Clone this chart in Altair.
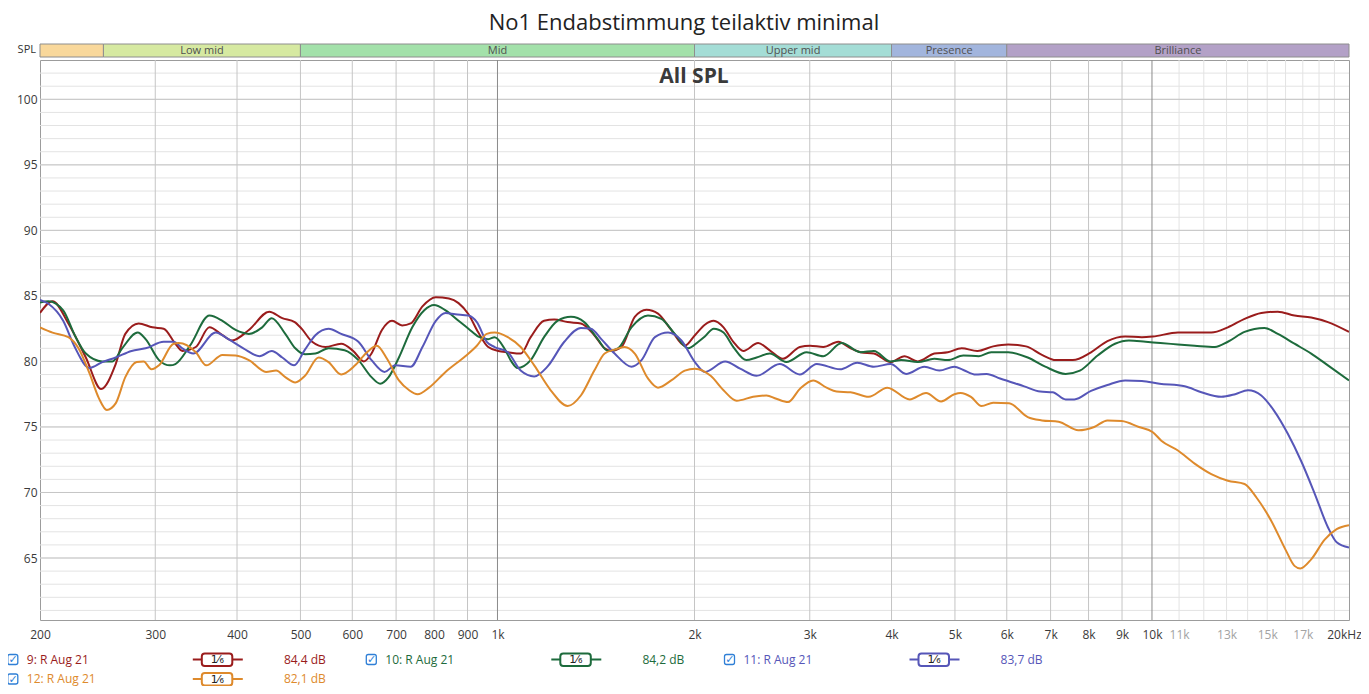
import altair as alt
import pandas as pd

FONT = "Open Sans"

# ---------------- data ----------------
red_f = [200, 209, 221, 235, 248, 261, 270, 283, 297, 309,
         322, 330, 346, 363, 380, 393, 417, 448, 469, 490,
         502, 521, 546, 577, 602, 625, 642, 666, 690, 715,
         737, 768, 805, 843, 872, 903, 935, 968, 1003, 1037,
         1085, 1124, 1178, 1221, 1280, 1341, 1406, 1458, 1492, 1547,
         1621, 1689, 1759, 1843, 1933, 2003, 2074, 2140, 2215, 2293,
         2375, 2502, 2606, 2730, 2897, 3003, 3147, 3317, 3464, 3588,
         3759, 3988, 4186, 4388, 4650, 4876, 5120, 5410, 5720, 6030,
         6420, 6790, 7130, 7570, 8070, 8550, 9100, 9650, 10030, 10956,
         11620, 12320, 13060, 13850, 14690, 15570, 16510, 17510, 18570, 20000]
red_db = [83.7, 84.6, 82.9, 80.3, 77.9, 79.8, 82.1, 82.9, 82.6, 82.5,
          81.35, 80.8, 81.1, 82.6, 82.0, 81.6, 82.4, 83.8, 83.3, 83.0,
          82.5, 81.5, 81.1, 81.35, 80.8, 80.0, 80.6, 82.4, 83.1, 82.75,
          82.9, 84.2, 84.9, 84.8, 84.45, 83.6, 82.2, 81.1, 80.8, 80.7,
          80.6, 81.85, 83.1, 83.2, 83.0, 82.9, 82.0, 81.0, 80.8, 81.1,
          83.4, 83.95, 83.65, 82.4, 81.2, 82.0, 82.8, 83.1, 82.6, 81.5,
          80.8, 81.4, 80.85, 80.2, 81.1, 81.2, 81.1, 81.5, 81.0, 80.7,
          80.6, 79.95, 80.4, 80.0, 80.6, 80.7, 81.0, 80.8, 81.15, 81.3,
          81.15, 80.5, 80.1, 80.1, 80.7, 81.55, 81.9, 81.85, 81.9, 82.2,
          82.2, 82.2, 82.6, 83.25, 83.7, 83.8, 83.5, 83.35, 83.0, 82.25]

green_f = [200, 206, 217, 226, 235, 249, 258, 267, 282, 290,
           304, 316, 322, 339, 363, 380, 398, 417, 437, 452,
           474, 491, 508, 527, 552, 584, 613, 642, 662, 682,
           707, 741, 773, 800, 833, 872, 903, 935, 968, 990,
           1027, 1050, 1073, 1124, 1178, 1235, 1295, 1357, 1423, 1475,
           1528, 1602, 1698, 1780, 1866, 1956, 2027, 2074, 2140, 2215,
           2293, 2400, 2488, 2606, 2763, 2967, 3147, 3356, 3588, 3759,
           3988, 4137, 4388, 4650, 4876, 5150, 5440, 5680, 6030, 6460,
           6870, 7380, 7760, 8260, 8780, 9220, 9780, 10300, 10956, 11620,
           12480, 13060, 13850, 14850, 15570, 16510, 17510, 18570, 20000]
green_db = [84.5, 84.6, 83.9, 82.0, 80.6, 80.0, 80.0, 81.0, 82.2, 81.7,
            80.1, 79.7, 79.8, 81.2, 83.5, 83.1, 82.4, 82.1, 82.6, 83.3,
            82.1, 81.0, 80.55, 80.6, 81.0, 80.85, 80.1, 78.8, 78.3, 78.8,
            80.3, 82.6, 83.9, 84.3, 83.9, 83.1, 82.5, 81.9, 81.7, 81.85,
            80.9, 80.0, 79.5, 80.1, 81.85, 83.1, 83.4, 83.0, 81.7, 80.8,
            81.0, 82.6, 83.5, 83.25, 82.1, 81.0, 81.5, 81.9, 82.5, 82.2,
            81.1, 80.1, 80.3, 80.6, 79.95, 80.7, 80.4, 81.4, 80.7, 80.8,
            80.0, 80.1, 79.95, 80.2, 80.1, 80.45, 80.4, 80.7, 80.7, 80.3,
            79.6, 79.05, 79.3, 80.45, 81.35, 81.6, 81.5, 81.4, 81.3, 81.2,
            81.1, 81.5, 82.25, 82.55, 82.1, 81.35, 80.6, 79.7, 78.55]

blue_f = [200, 206, 217, 226, 238, 249, 261, 276, 290, 309,
          320, 330, 343, 371, 388, 409, 433, 452, 469, 489,
          508, 527, 552, 577, 613, 642, 672, 698, 737, 768,
          805, 833, 862, 903, 930, 963, 990, 1037, 1085, 1138,
          1192, 1265, 1341, 1389, 1441, 1510, 1602, 1660, 1740, 1822,
          1910, 2003, 2074, 2228, 2348, 2488, 2699, 2897, 3075, 3337,
          3546, 3759, 3988, 4210, 4490, 4734, 4990, 5150, 5380, 5590,
          5860, 6380, 6750, 7050, 7380, 7610, 8070, 8550, 9100, 9650,
          10270, 11220, 11900, 12760, 13400, 14020, 14690, 15360, 16120, 16900,
          17730, 18570, 19150, 20000]
blue_db = [84.7, 84.4, 83.1, 81.1, 79.5, 79.95, 80.3, 80.8, 81.0, 81.5,
           81.5, 81.0, 80.6, 82.2, 81.7, 81.0, 80.4, 80.8, 80.3, 79.7,
           80.9, 82.0, 82.5, 82.1, 81.5, 80.1, 79.2, 79.7, 79.6, 81.1,
           83.1, 83.7, 83.6, 83.5, 83.0, 81.5, 81.1, 80.7, 79.3, 78.85,
           79.6, 81.5, 82.55, 82.5, 81.7, 80.6, 79.6, 80.1, 81.85, 82.2,
           81.6, 79.95, 79.2, 80.0, 79.45, 78.9, 79.8, 79.0, 79.8, 79.4,
           79.9, 79.6, 79.8, 79.05, 79.6, 79.3, 79.6, 79.35, 79.0, 79.05,
           78.7, 78.1, 77.7, 77.65, 77.1, 77.1, 77.75, 78.2, 78.55, 78.5,
           78.3, 78.1, 77.65, 77.3, 77.5, 77.8, 77.4, 76.25, 74.5, 72.4,
           69.9, 67.35, 66.2, 65.8]

orange_f = [200, 209, 221, 229, 238, 246, 253, 261, 270, 281,
            288, 296, 304, 320, 326, 346, 359, 380, 398, 417,
            443, 459, 474, 491, 508, 533, 552, 577, 606, 632,
            654, 678, 707, 733, 755, 786, 833, 893, 930, 963,
            990, 1037, 1085, 1138, 1206, 1280, 1341, 1406, 1458, 1510,
            1564, 1621, 1698, 1759, 1843, 1933, 2003, 2117, 2215, 2320,
            2458, 2576, 2667, 2780, 2897, 3036, 3183, 3297, 3464, 3692,
            3941, 4264, 4517, 4762, 4990, 5100, 5290, 5490, 5720, 6050,
            6460, 6790, 7200, 7720, 8160, 8550, 8990, 9550, 10030, 10335,
            10956, 11620, 12320, 13060, 13850, 14450, 15210, 16010, 16510, 16850,
            17510, 18360, 19150, 20000]
orange_db = [82.6, 82.2, 81.85, 81.0, 79.1, 77.2, 76.3, 76.8, 78.8, 79.95,
             80.0, 79.4, 79.7, 81.35, 81.4, 80.7, 79.7, 80.5, 80.45, 80.1,
             79.2, 79.3, 78.8, 78.4, 78.9, 80.3, 79.95, 79.0, 79.7, 80.7,
             81.2, 80.2, 78.55, 77.8, 77.5, 78.0, 79.2, 80.4, 81.2, 82.1,
             82.2, 81.85, 81.1, 79.7, 77.8, 76.6, 77.4, 79.3, 80.6, 80.9,
             81.1, 80.6, 78.7, 78.0, 78.55, 79.3, 79.45, 78.9, 77.8, 77.0,
             77.3, 77.4, 77.15, 76.9, 77.9, 78.55, 78.0, 77.7, 77.65, 77.3,
             78.0, 77.1, 77.6, 76.95, 77.5, 77.6, 77.3, 76.6, 76.85, 76.8,
             75.75, 75.5, 75.4, 74.75, 75.0, 75.5, 75.45, 75.0, 74.6, 73.95,
             73.2, 72.2, 71.4, 70.9, 70.65, 69.6, 67.85, 65.6, 64.4, 64.2,
             64.9, 66.4, 67.2, 67.5]

series_names = ["9: R Aug 21", "10: R Aug 21", "11: R Aug 21", "12: R Aug 21"]
series_levels = ["84,4 dB", "84,2 dB", "83,7 dB", "82,1 dB"]
series_colors = ["#9a1c1c", "#1d6b3c", "#5656b8", "#de8a2c"]
series_freqs = [red_f, green_f, blue_f, orange_f]
series_dbs = [red_db, green_db, blue_db, orange_db]

band_names = ["", "Low mid", "Mid", "Upper mid", "Presence", "Brilliance"]
band_lo = [200, 250, 500, 2000, 4000, 6000]
band_hi = [250, 500, 2000, 4000, 6000, 20000]
band_colors = ["#f9d89b", "#d6e9a1", "#a3e1aa", "#a4ddd6", "#a2b5dd", "#b3a1c7"]

grid_major_x = [1000, 10000]
grid_mid_x = [300, 400, 500, 600, 700, 800, 900,
              2000, 3000, 4000, 5000, 6000, 7000, 8000, 9000]
grid_minor_x = [11000, 12000, 13000, 14000, 15000, 16000, 17000, 18000, 19000]
grid_db_minor = list(range(61, 103))
grid_db_major = [65, 70, 75, 80, 85, 90, 95, 100]

x_tick_values = [200, 300, 400, 500, 600, 700, 800, 900, 1000, 2000, 3000, 4000,
                 5000, 6000, 7000, 8000, 9000, 10000, 11000, 13000, 15000, 17000, 20000]
y_tick_values = [65, 70, 75, 80, 85, 90, 95, 100]

title_text = "No1 Endabstimmung teilaktiv minimal"
subtitle_text = "All SPL"
strip_label = "SPL"
smoothing_text = "1\u2044\u2086"

# ---------------- chart ----------------
xscale = alt.Scale(type="log", domain=[200, 20000], nice=False)
yscale = alt.Scale(domain=[60.27, 103.0], nice=False, zero=False)
one = pd.DataFrame({"k": [0]})

x_axis = alt.Axis(
    values=x_tick_values,
    labelExpr="datum.value >= 20000 ? '20kHz' : (datum.value >= 1000 ? format(datum.value / 1000, 'd') + 'k' : format(datum.value, 'd'))",
    labelColor={"condition": {"test": "datum.value == 11000 || datum.value == 13000 || datum.value == 15000 || datum.value == 17000",
                              "value": "#a3a3a3"}, "value": "#3a3a3a"},
    labelOffset={"condition": {"test": "datum.value == 20000", "value": -5}, "value": 0},
    labelFont=FONT, labelFontSize=12, labelPadding=9, ticks=False, domain=False,
    grid=False, title=None, labelOverlap=False, labelFlush=False,
)
y_axis = alt.Axis(
    values=y_tick_values, labelFont=FONT, labelFontSize=12, labelColor="#3a3a3a",
    labelPadding=3, ticks=False, domain=False, grid=False, title=None,
)


def X(field):
    return alt.X(field, scale=xscale, axis=x_axis)


def Y(field):
    return alt.Y(field, scale=yscale, axis=y_axis)


def vrules(vals, color):
    return alt.Chart(pd.DataFrame({"f": vals})).mark_rule(color=color, strokeWidth=1).encode(
        x=X("f:Q"))


def hrules(vals, color):
    return alt.Chart(pd.DataFrame({"d": vals})).mark_rule(color=color, strokeWidth=1).encode(
        y=Y("d:Q"))


def txt(x, y, s, size=12, color="#333333", align="left", weight="normal", font=FONT):
    return alt.Chart(one).mark_text(
        font=font, fontSize=size, color=color, align=align, baseline="middle", fontWeight=weight
    ).encode(x=alt.value(x), y=alt.value(y), text=alt.value(s))


def box(x1, x2, y1, y2, stroke, sw, radius, fill="white"):
    return alt.Chart(one).mark_rect(
        fill=fill, stroke=stroke, strokeWidth=sw, cornerRadius=radius
    ).encode(x=alt.value(x1), x2=alt.value(x2), y=alt.value(y1), y2=alt.value(y2))


def hline(x1, x2, y, color, sw):
    return alt.Chart(one).mark_rule(color=color, strokeWidth=sw).encode(
        x=alt.value(x1), x2=alt.value(x2), y=alt.value(y))


layers = [
    hrules(grid_db_minor, "#e3e3e3"),
    vrules(grid_minor_x, "#e3e3e3"),
    hrules(grid_db_major, "#c5c5c5"),
    vrules(grid_mid_x, "#c5c5c5"),
    vrules(grid_major_x, "#8a8a8a"),
]

for f, d, c in zip(series_freqs, series_dbs, series_colors):
    df = pd.DataFrame({"f": f, "db": d})
    layers.append(
        alt.Chart(df).mark_line(color=c, strokeWidth=2, interpolate="monotone", clip=True).encode(
            x=X("f:Q"), y=Y("db:Q"))
    )

bands_df = pd.DataFrame({"name": band_names, "lo": band_lo, "hi": band_hi, "col": band_colors})
layers.append(
    alt.Chart(bands_df).mark_rect(stroke="#8e8e8e", strokeWidth=1).encode(
        x=X("lo:Q"), x2=alt.X2("hi:Q"),
        y=alt.value(-16), y2=alt.value(-3),
        fill=alt.Fill("col:N", scale=None),
    )
)
layers.append(
    alt.Chart(bands_df).transform_calculate(mid="sqrt(datum.lo * datum.hi)").mark_text(
        font=FONT, fontSize=11, color="#505050", baseline="middle", align="center"
    ).encode(x=X("mid:Q"), y=alt.value(-9.5), text="name:N")
)

layers.append(txt(-4, -10, strip_label, size=11, color="#333333", align="right"))
layers.append(txt(644, -37, title_text, size=22, color="#222222", align="center"))
layers.append(txt(654, 17, subtitle_text, size=21, color="#3a3a3a", align="center", weight="bold"))

# legend
col_x = [-27.2, 331.3, 689.5]
row_y = [599.5, 619]
for i in range(4):
    cx = col_x[i % 3]
    ry = row_y[i // 3]
    c = series_colors[i]
    layers.append(box(cx - 5, cx + 5, ry - 5, ry + 5, "#2f7fd6", 1.3, 2))
    layers.append(txt(cx + 0.3, ry + 0.5, "\u2713", size=11, color="#2f7fd6", align="center",
                      weight="bold", font="DejaVu Sans"))
    layers.append(txt(cx + 14, ry, series_names[i], size=12, color=c))
    layers.append(hline(cx + 180, cx + 230, ry, c, 2))
    layers.append(box(cx + 189, cx + 219.5, ry - 6, ry + 6.5, c, 2, 3))
    layers.append(txt(cx + 204.5, ry + 0.5, smoothing_text, size=11, color="#222222",
                      align="center", font="DejaVu Sans"))
    layers.append(txt(cx + 313, ry, series_levels[i], size=12, color=c, align="right"))

chart = alt.layer(*layers).properties(
    width=1309, height=560,
    padding={"left": 32, "top": 52, "right": 12, "bottom": 66},
    autosize=alt.AutoSizeParams(type="none"),
    background="white",
).configure_view(stroke="#9c9c9c", strokeWidth=1)

chart.save("out.html", embed_options={"renderer": "svg", "actions": False})
